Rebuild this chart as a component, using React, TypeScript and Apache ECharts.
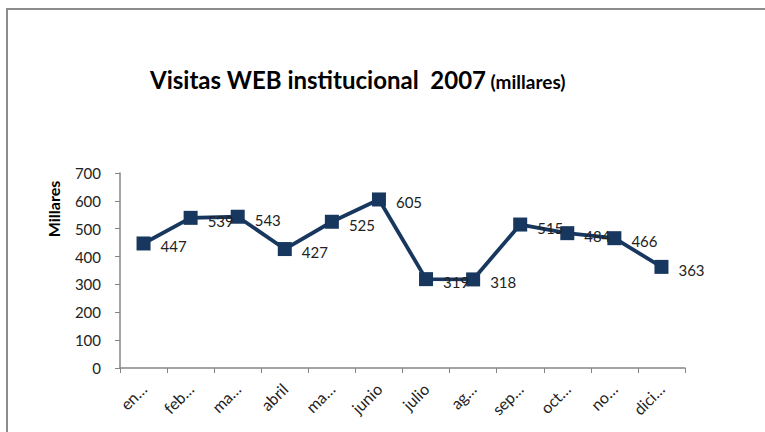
import React, { useEffect, useRef } from "react";
import * as echarts from "echarts";

const months = ["enero", "febrero", "marzo", "abril", "mayo", "junio", "julio", "agosto", "septiembre", "octubre", "noviembre", "diciembre"];
const tickLabels = ["en…", "feb…", "ma…", "abril", "ma…", "junio", "julio", "ag…", "sep…", "oct…", "no…", "dici…"];
const visits = [447, 539, 543, 427, 525, 605, 319, 318, 515, 484, 466, 363];
const yTicks = { min: 0, max: 700, interval: 100 };

const FONT = "Lato, 'Open Sans', sans-serif";

export default function App() {
  const ref = useRef<HTMLDivElement>(null);
  useEffect(() => {
    if (!ref.current) return;
    const chart = echarts.init(ref.current, undefined, { renderer: "svg" });
    chart.setOption({
      animation: false,
      backgroundColor: "#ffffff",
      textStyle: { fontFamily: FONT },
      title: {
        text: "{a|Visitas WEB institucional  2007} {b|(millares)}",
        left: 145,
        top: 62,
        textStyle: {
          rich: {
            a: { fontFamily: FONT, fontSize: 24, fontWeight: "bold", color: "#000" },
            b: { fontFamily: FONT, fontSize: 19, fontWeight: "bold", color: "#000", padding: [4, 0, 0, 0] },
          },
        },
      },
      graphic: [
        {
          type: "polyline",
          shape: { points: [[7, 440], [7, 9], [770, 9]] },
          style: { stroke: "#8c8c8c", lineWidth: 2, fill: "none" },
        },
        {
          type: "text",
          x: 53,
          y: 209,
          rotation: Math.PI / 2,
          style: {
            text: "Millares",
            font: `bold 16px ${FONT}`,
            fill: "#000",
            align: "center",
            verticalAlign: "middle",
          },
        },
      ],
      grid: { left: 120, right: 80, top: 173, bottom: 64, containLabel: false },
      xAxis: {
        type: "category",
        data: months,
        boundaryGap: true,
        axisLine: { lineStyle: { color: "#868686", width: 1.5 } },
        axisTick: { show: true, length: 5, lineStyle: { color: "#868686" } },
        axisLabel: {
          rotate: 45,
          fontSize: 16,
          color: "#222",
          margin: 18,
          fontFamily: FONT,
          formatter: (_v: string, i: number) => tickLabels[i],
        },
      },
      yAxis: {
        type: "value",
        min: yTicks.min,
        max: yTicks.max,
        interval: yTicks.interval,
        splitLine: { show: false },
        axisLine: { show: true, lineStyle: { color: "#868686", width: 1.5 } },
        axisTick: { show: true, length: 5, lineStyle: { color: "#868686" } },
        axisLabel: { fontSize: 15, color: "#222", margin: 19, fontFamily: FONT },
      },
      series: [
        {
          type: "line",
          data: visits,
          symbol: "rect",
          symbolSize: 14,
          itemStyle: { color: "#17375e" },
          lineStyle: { color: "#17375e", width: 3.8 },
          label: {
            show: true,
            position: "right",
            distance: 10,
            offset: [0, 3],
            fontSize: 15,
            color: "#222",
            fontFamily: FONT,
          },
        },
      ],
    });
    return () => chart.dispose();
  }, []);
  return <div ref={ref} style={{ width: 765, height: 432, position: "absolute", left: 0, top: 0 }} />;
}
